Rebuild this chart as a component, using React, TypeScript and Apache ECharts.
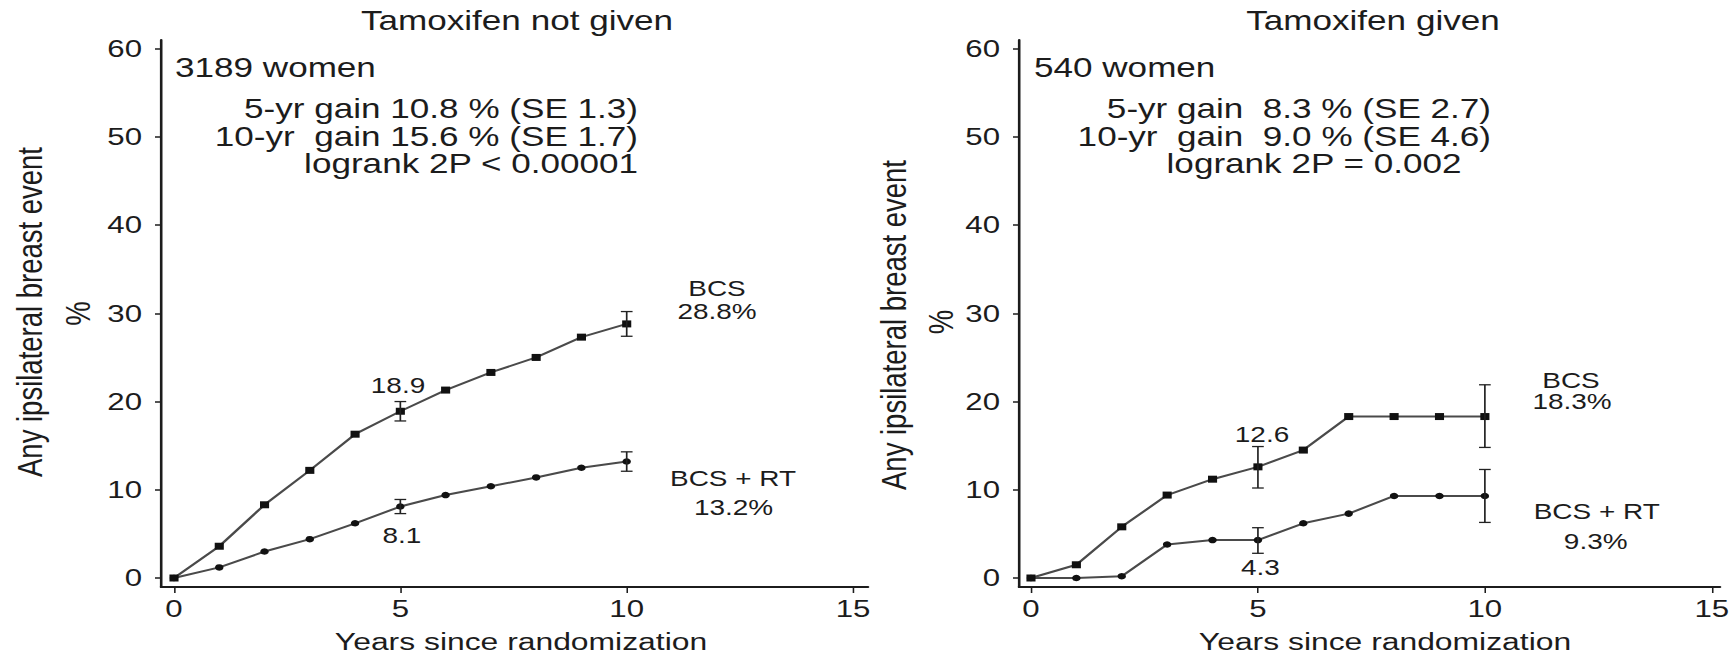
import React, { useEffect, useRef } from "react";
import * as echarts from "echarts";

// ---- data ----
const years = [0, 1, 2, 3, 4, 5, 6, 7, 8, 9, 10];
const noTamBCS = [0, 3.6, 8.3, 12.2, 16.3, 18.9, 21.3, 23.3, 25.0, 27.3, 28.8];
const noTamRT = [0, 1.2, 3.0, 4.4, 6.2, 8.1, 9.4, 10.4, 11.4, 12.5, 13.2];
const tamBCS = [0, 1.5, 5.8, 9.4, 11.2, 12.6, 14.5, 18.3, 18.3, 18.3, 18.3];
const tamRT = [0, 0, 0.2, 3.8, 4.3, 4.3, 6.2, 7.3, 9.3, 9.3, 9.3];
const errYears = [5, 10];
const noTamBCSLow = [17.8, 27.4];
const noTamBCSHigh = [20.0, 30.2];
const noTamRTLow = [7.3, 12.1];
const noTamRTHigh = [8.9, 14.3];
const tamBCSLow = [10.2, 14.8];
const tamBCSHigh = [14.9, 21.9];
const tamRTLow = [2.8, 6.3];
const tamRTHigh = [5.7, 12.3];
const xTicks = [0, 5, 10, 15];
const yTicks = [0, 10, 20, 30, 40, 50, 60];

// ---- styling ----
const S = 1.3; // the reference is stretched horizontally
const W = 1734 / S;
const H = 656;
const FONT = "'Liberation Sans', Arial, Helvetica, sans-serif";
const INK = "#1c1c1c";
const LINE = "#4a4a4a";

const X = (v: number) => v / S;

function txt(text: string, x: number, y: number, size: number, align = "center", rotation = 0) {
  return {
    type: "text",
    x: X(x),
    y,
    rotation,
    silent: true,
    style: { text, fontSize: size, fontFamily: FONT, fill: INK, align, verticalAlign: "middle" },
  };
}

function xAxisDef(gridIndex: number, min: number, max: number) {
  return {
    type: "value",
    gridIndex,
    min,
    max,
    axisLine: { show: true, onZero: false, lineStyle: { color: INK, width: 2 } },
    axisTick: { show: true, length: 6, customValues: xTicks, lineStyle: { color: INK, width: 1.2 } },
    axisLabel: { customValues: xTicks, fontSize: 24, color: INK, fontFamily: FONT, margin: 10 },
    splitLine: { show: false },
  };
}

function yAxisDef(gridIndex: number) {
  return {
    type: "value",
    gridIndex,
    min: -1.02,
    max: 60.98,
    axisLine: { show: true, onZero: false, lineStyle: { color: INK, width: 2 } },
    axisTick: { show: true, length: X(6), customValues: yTicks, lineStyle: { color: INK, width: 1.5 } },
    axisLabel: { customValues: yTicks, fontSize: 24, color: INK, fontFamily: FONT, margin: X(19) },
    splitLine: { show: false },
  };
}

function lineSeries(idx: number, ys: number[], symbol: string, size: number) {
  return {
    type: "line",
    xAxisIndex: idx,
    yAxisIndex: idx,
    data: years.map((y, i) => [y, ys[i]]),
    symbol,
    symbolSize: size,
    showSymbol: true,
    itemStyle: { color: "#111" },
    lineStyle: { color: LINE, width: 2 },
    z: 2,
  };
}

function errSeries(idx: number, lo: number[], hi: number[]) {
  return {
    type: "custom",
    xAxisIndex: idx,
    yAxisIndex: idx,
    data: errYears.map((x, i) => [x, lo[i], hi[i]]),
    encode: { x: 0, y: [1, 2] },
    z: 3,
    renderItem: (_params: any, api: any) => {
      const x = api.value(0);
      const a = api.coord([x, api.value(1)]);
      const b = api.coord([x, api.value(2)]);
      const w = 4.5;
      const st = { stroke: "#222", lineWidth: 1.3 };
      return {
        type: "group",
        children: [
          { type: "line", shape: { x1: a[0], y1: a[1], x2: b[0], y2: b[1] }, style: st },
          { type: "line", shape: { x1: a[0] - w, y1: a[1], x2: a[0] + w, y2: a[1] }, style: st },
          { type: "line", shape: { x1: b[0] - w, y1: b[1], x2: b[0] + w, y2: b[1] }, style: st },
        ],
      };
    },
  };
}

export default function App() {
  const ref = useRef<HTMLDivElement>(null);
  useEffect(() => {
    if (!ref.current) return;
    const chart = echarts.init(ref.current, undefined, { renderer: "svg" });
    const option: any = {
      animation: false,
      backgroundColor: "#ffffff",
      grid: [
        { left: X(161), top: 40, width: X(707), height: 547, containLabel: false, outerBoundsMode: "none" },
        { left: X(1019), top: 40, width: X(701), height: 547, containLabel: false, outerBoundsMode: "none" },
      ],
      xAxis: [xAxisDef(0, -0.287, 15.33), xAxisDef(1, -0.264, 15.18)],
      yAxis: [yAxisDef(0), yAxisDef(1)],
      series: [
        lineSeries(0, noTamBCS, "rect", 7),
        lineSeries(0, noTamRT, "circle", 6.5),
        errSeries(0, noTamBCSLow, noTamBCSHigh),
        errSeries(0, noTamRTLow, noTamRTHigh),
        lineSeries(1, tamBCS, "rect", 7),
        lineSeries(1, tamRT, "circle", 6.5),
        errSeries(1, tamBCSLow, tamBCSHigh),
        errSeries(1, tamRTLow, tamRTHigh),
      ],
      graphic: [
        txt("Tamoxifen not given", 517, 21, 27),
        txt("Tamoxifen given", 1373, 21, 27),
        txt("3189 women", 175, 68, 27, "left"),
        txt("540 women", 1034, 68, 27, "left"),
        txt("5-yr gain 10.8 % (SE 1.3)", 638, 109, 27, "right"),
        txt("10-yr  gain 15.6 % (SE 1.7)", 638, 136.5, 27, "right"),
        txt("logrank 2P < 0.00001", 638, 164, 27, "right"),
        txt("5-yr gain  8.3 % (SE 2.7)", 1491, 109, 27, "right"),
        txt("10-yr  gain  9.0 % (SE 4.6)", 1491, 136.5, 27, "right"),
        txt("logrank 2P = 0.002", 1314, 164, 27),
        txt("18.9", 398, 385, 21.5),
        txt("8.1", 402, 535.6, 21.5),
        txt("BCS", 717, 288, 21.5),
        txt("28.8%", 717, 311, 21.5),
        txt("BCS + RT", 733, 478.5, 21.5),
        txt("13.2%", 733.5, 507.3, 21.5),
        txt("12.6", 1262, 434.5, 21.5),
        txt("4.3", 1260.5, 567.2, 21.5),
        txt("BCS", 1571, 380, 21.5),
        txt("18.3%", 1572, 401.5, 21.5),
        txt("BCS + RT", 1596.7, 511.5, 21.5),
        txt("9.3%", 1595.7, 541.5, 21.5),
        txt("Years since randomization", 521, 641.5, 24.5),
        txt("Years since randomization", 1385, 641.5, 24.5),
        txt("Any ipsilateral breast event", 30, 312, 27.5, "center", Math.PI / 2),
        txt("%", 77.5, 313.5, 27.5, "center", Math.PI / 2),
        txt("Any ipsilateral breast event", 894, 325, 27.5, "center", Math.PI / 2),
        txt("%", 941, 322, 27.5, "center", Math.PI / 2),
      ],
    };
    chart.setOption(option);
    return () => chart.dispose();
  }, []);
  return (
    <div
      ref={ref}
      style={{
        position: "absolute",
        left: 0,
        top: 0,
        width: W,
        height: H,
        transform: `scaleX(${S})`,
        transformOrigin: "0 0",
        background: "#fff",
      }}
    />
  );
}
